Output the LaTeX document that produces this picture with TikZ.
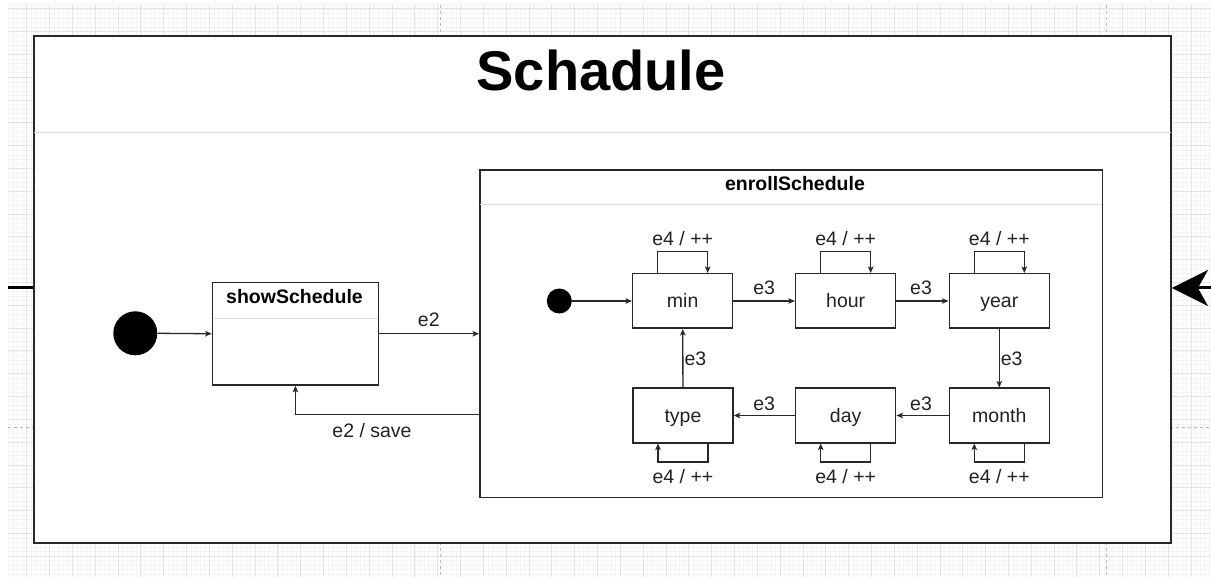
\documentclass[tikz,border=0pt]{standalone}
\usepackage{fontspec}
\setmainfont{Liberation Sans}
\usetikzlibrary{arrows.meta}
\definecolor{gridmajor}{RGB}{228,228,228}
\definecolor{gridminor}{RGB}{244,244,244}
\definecolor{sepgray}{RGB}{220,220,220}
\definecolor{pagebreak}{RGB}{185,185,185}
\definecolor{ink}{RGB}{34,34,34}
\definecolor{frame}{RGB}{40,40,40}
\begin{document}
\begin{tikzpicture}[x=1pt,y=-1pt,
  lbl/.style={font=\fontsize{19.5}{23}\selectfont, text=ink, inner sep=0pt},
  boldlbl/.style={font=\fontsize{19.5}{23}\selectfont\bfseries, text=black, inner sep=0pt},
  statebox/.style={draw=frame, line width=1.5pt, fill=white, minimum width=100pt, minimum height=54.5pt,
    inner sep=0pt, text height=14pt, text depth=0pt, font=\fontsize{19.5}{23}\selectfont, text=ink},
  container/.style={draw=frame, line width=1.5pt, fill=white, inner sep=0pt},
  conn/.style={draw=frame, line width=1.3pt, -{Stealth[length=6.5pt,width=5.5pt,inset=1.5pt]}},
  sep/.style={draw=sepgray, line width=1pt, shorten <=0.8pt, shorten >=0.8pt},
  startdot/.style={circle, fill=black, draw=none, inner sep=0pt},
  pbreak/.style={draw=pagebreak, dashed, line width=0.8pt, dash pattern=on 3pt off 3pt},
]
\useasboundingbox (0,0) rectangle (1211,577);
\fill[white] (0,0) rectangle (1211,577);
% background grid
\begin{scope}
\clip (8,5) rectangle (1211,577);
\foreach \i in {0,...,265} \draw[gridminor, line width=0.6pt] ({3.87+\i*4.566},5) -- ({3.87+\i*4.566},577);
\foreach \i in {0,...,127} \draw[gridminor, line width=0.6pt] (8,{4.34+\i*4.56}) -- (1211,{4.34+\i*4.56});
\foreach \i in {0,...,53} \draw[gridmajor, line width=0.8pt] ({3.87+\i*22.83},5) -- ({3.87+\i*22.83},577);
\foreach \i in {0,...,25} \draw[gridmajor, line width=0.8pt] (8,{8.9+\i*22.8}) -- (1211,{8.9+\i*22.8});
\end{scope}
% page breaks
\draw[pbreak] (440,5) -- (440,35);
\draw[pbreak] (440,542) -- (440,577);
\draw[pbreak] (1106,5) -- (1106,35);
\draw[pbreak] (1106,542) -- (1106,577);
\draw[pbreak] (8,427) -- (33,427);
\draw[pbreak] (1170,427) -- (1211,427);

% main container
\node[container, line width=1.9pt, minimum width=1137pt, minimum height=507pt, anchor=north west] (main) at (33,35) {};
\node[font=\fontsize{56}{60}\selectfont\bfseries, text=black, inner sep=0pt, anchor=base] (title) at (601,91) {Schadule};
\coordinate (hdr) at (0,133);
\draw[sep] (main.west |- hdr) -- (main.east |- hdr);

% outer left line and right arrow
\coordinate (leftend) at (8,288);
\coordinate (rightend) at (1211,288);
\draw[line width=3pt, draw=black] (leftend) -- (leftend -| main.west);
\draw[line width=3pt, draw=black, -{Stealth[length=36pt,width=36pt,inset=10pt]}] (rightend) -- (rightend -| main.east);

% showSchedule
\node[startdot, minimum size=44pt] (init) at (135.3,333.3) {};
\node[container, minimum width=166pt, minimum height=102.6pt, anchor=north west] (show) at (211.7,281.7) {};
\node[boldlbl, anchor=base] (showT) at (294.5,303.3) {showSchedule};
\coordinate (showsep) at (0,318.3);
\draw[sep] (show.west |- showsep) -- (show.east |- showsep);

% enrollSchedule
\node[container, minimum width=622.7pt, minimum height=327.4pt, anchor=north west] (enroll) at (479,169.3) {};
\node[boldlbl, anchor=base] (enrollT) at (795,190.7) {enrollSchedule};
\coordinate (enrollsep) at (0,205);
\draw[sep] (enroll.west |- enrollsep) -- (enroll.east |- enrollsep);

\draw[conn] (init.east) -- (show.west);
\draw[conn] (show.east) -- (show.east -| enroll.west);
\node[lbl, anchor=base] (e2a) at (428.8,326.5) {e2};
\coordinate (retstart) at ([yshift=-81pt]enroll.west);
\draw[conn] (retstart) -| (show.south);
\node[lbl, anchor=base] (e2b) at (372,438) {e2 / save};

% inner states
\node[startdot, minimum size=25pt] (init2) at (559.3,301) {};
\node[statebox] (min) at (682.7,301) {min};
\node[statebox] (hour) at (845.7,301) {hour};
\node[statebox] (year) at (999.3,301) {year};
\node[statebox] (month) at (999.3,415.5) {month};
\node[statebox] (day) at (845.7,415.5) {day};
\node[statebox] (type) at (683,415.5) {type};

\draw[conn] (init2.east) -- (min.west);
\draw[conn] (min) -- (hour);
\node[lbl, anchor=base] (e3a) at (764.2,295) {e3};
\draw[conn] (hour) -- (year);
\node[lbl, anchor=base] (e3b) at (921,295) {e3};
\draw[conn] (year) -- (month);
\node[lbl, anchor=base west] (e3c) at (1000.6,366) {e3};
\draw[conn] (month) -- (day);
\node[lbl, anchor=base] (e3d) at (921,410) {e3};
\draw[conn] (day) -- (type);
\node[lbl, anchor=base] (e3e) at (764.2,410) {e3};
\draw[conn] (type) -- (min);
\node[lbl, anchor=base west] (e3f) at (684.3,366) {e3};

% self loops (top row)
\foreach \s in {min,hour,year}{
  \draw[conn] ([xshift=-25pt]\s.north) -- ++(0,-21.7) -| ([xshift=25pt]\s.north);
  \node[lbl, anchor=base] (loop\s) at ([yshift=27.5pt]\s.north) {e4 / ++};
}
% self loops (bottom row)
\foreach \s in {month,day,type}{
  \draw[conn] ([xshift=25pt]\s.south) -- ++(0,18.5) -| ([xshift=-25pt]\s.south);
  \node[lbl, anchor=base] (loop\s) at ([yshift=-40.3pt]\s.south) {e4 / ++};
}
\end{tikzpicture}
\end{document}
